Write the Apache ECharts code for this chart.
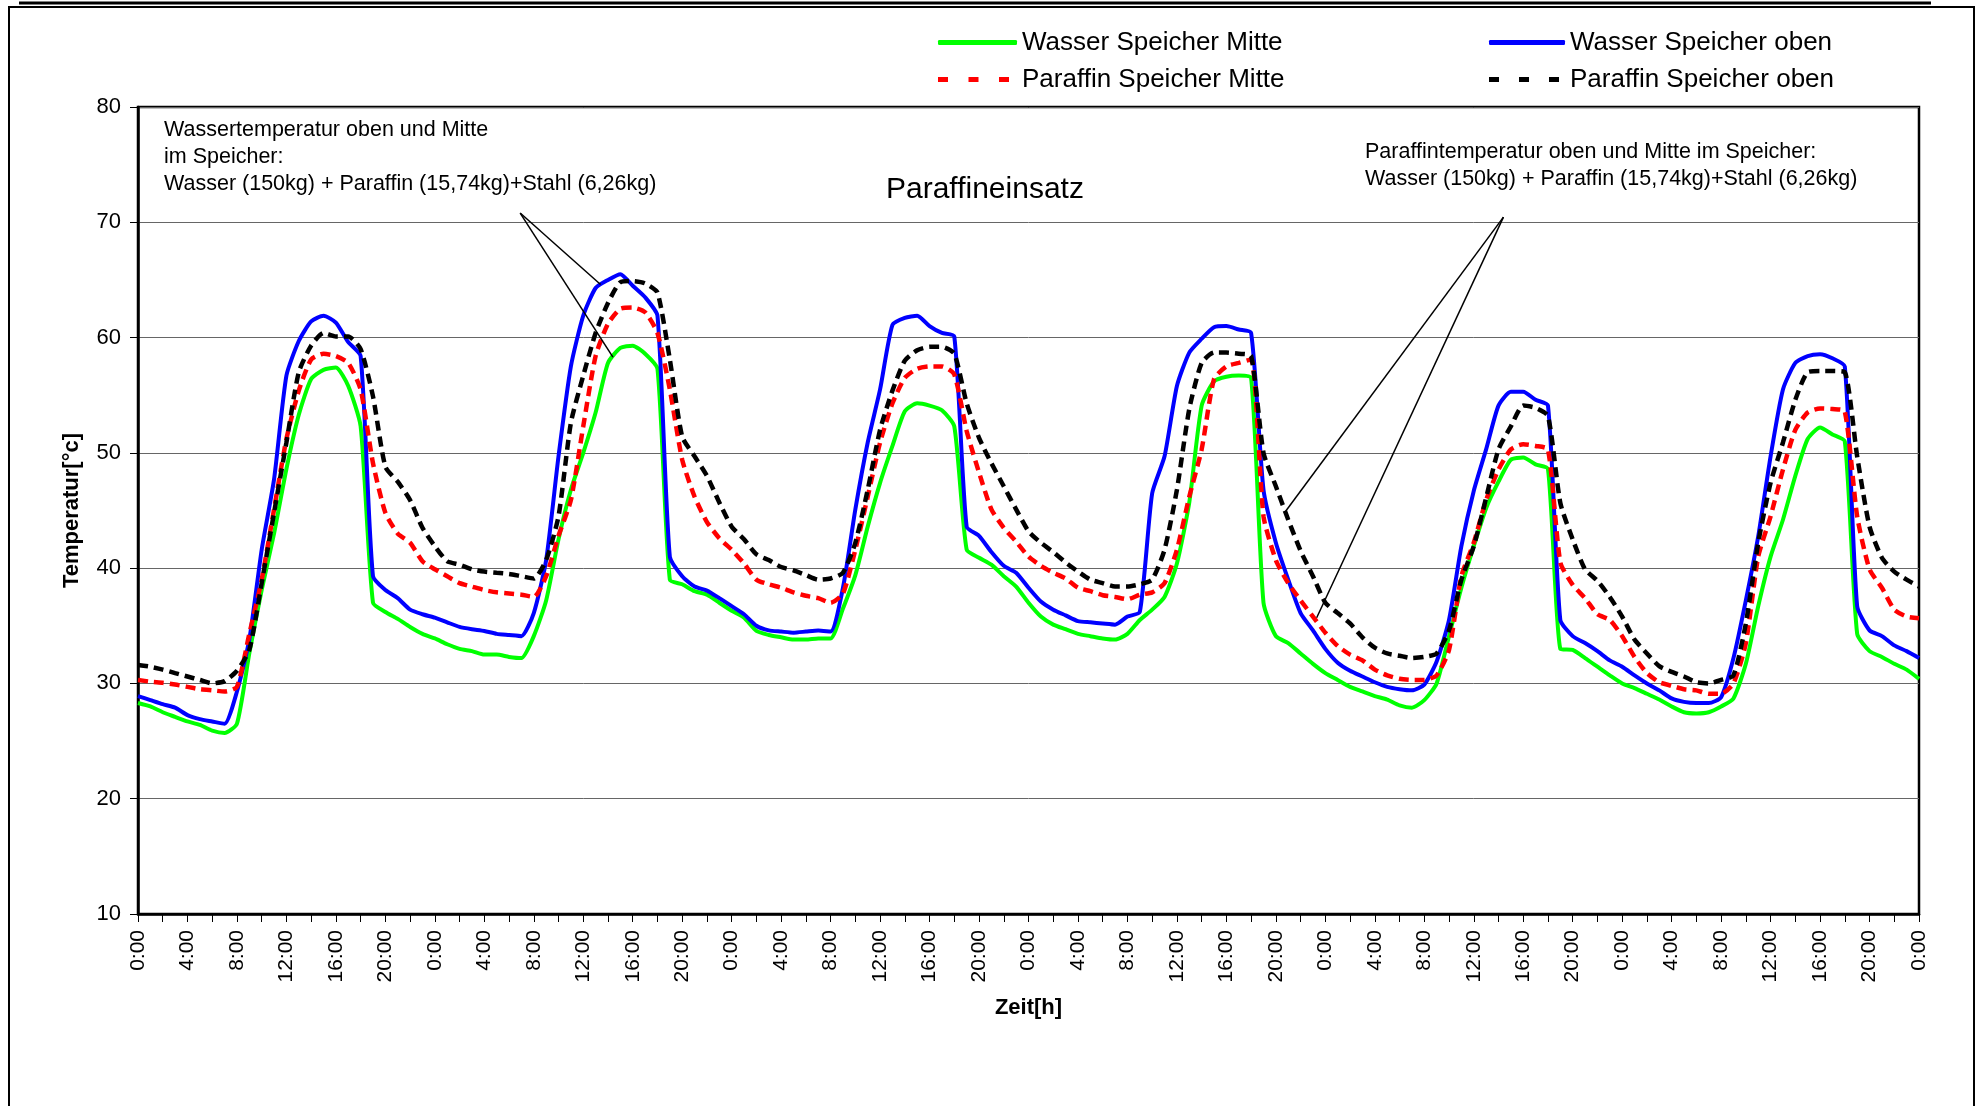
<!DOCTYPE html>
<html>
<head>
<meta charset="utf-8">
<title>Paraffineinsatz</title>
<script src="https://cdn.jsdelivr.net/npm/echarts@6/dist/echarts.min.js"></script>
<style>
  html, body { margin: 0; padding: 0; background: #fff; }
  #main { width: 1982px; height: 1106px; }
</style>
</head>
<body>
<div id="main"></div>
<script>
// Zeitachse: 6 Tage, Werte im Stundentakt (0..144 h)
var hours = [];
for (var i = 0; i <= 144; i++) hours.push(i);

var wasserMitte = [
  28.3, 28.0, 27.5, 27.1, 26.7, 26.4, 25.9, 25.7, 26.5, 32.6, 38.1, 43.0, 48.6, 53.3, 56.4, 57.2, 57.4, 55.8, 52.3, 37.0,
  36.2, 35.6, 34.9, 34.3, 33.9, 33.4, 33.0, 32.8, 32.5, 32.5, 32.3, 32.2, 34.1, 37.2, 42.5, 46.8, 50.0, 53.5, 57.8, 59.1,
  59.3, 58.6, 57.3, 39.0, 38.6, 38.0,
  37.7, 37.0, 36.3, 35.7, 34.55, 34.2, 34.0, 33.8, 33.8, 33.9, 33.9, 36.5, 39.4, 43.6, 47.4, 50.6, 53.6, 54.3, 54.1, 53.7,
  52.3, 41.6, 40.9, 40.3, 39.3, 38.4, 37.0, 35.8, 35.1, 34.7, 34.3, 34.1, 33.9, 33.8, 34.3, 35.5, 36.4, 37.5, 40.4, 45.7,
  54.1, 56.2, 56.6, 56.7, 56.5, 37.0, 34.1, 33.5,
  32.6, 31.7, 30.9, 30.3, 29.7, 29.3, 28.9, 28.6, 28.1, 27.9, 28.55, 30.0, 34.1, 38.3, 41.9, 45.2, 47.5, 49.4, 49.6, 49.0,
  48.6, 33.0, 32.9, 32.2, 31.45, 30.7, 30.0, 29.6, 29.1, 28.6, 28.0, 27.5, 27.4, 27.5, 28.0, 28.7, 31.7, 36.7, 41.0, 44.2,
  48.0, 51.2, 52.2, 51.6, 51.0, 34.3, 32.8, 32.3, 31.7, 31.2, 30.4
];

var wasserOben = [
  28.9, 28.55, 28.2, 27.9, 27.25, 26.9, 26.7, 26.5, 29.3, 33.8, 41.6, 47.7, 56.7, 59.7, 61.4, 61.9, 61.3, 59.6, 58.4, 39.3,
  38.1, 37.4, 36.4, 36.0, 35.7, 35.3, 34.9, 34.7, 34.55, 34.3, 34.2, 34.1, 36.1, 40.7, 49.7, 57.5, 61.9, 64.3, 65.0, 65.5,
  64.5, 63.5, 61.9, 41.0, 39.3, 38.4,
  38.05, 37.4, 36.7, 36.0, 35.0, 34.6, 34.5, 34.4, 34.5, 34.6, 34.5, 38.3, 45.1, 50.9, 55.5, 61.1, 61.7, 61.9, 61.0, 60.4,
  60.1, 43.6, 42.8, 41.4, 40.2, 39.6, 38.3, 37.1, 36.4, 35.9, 35.4, 35.3, 35.2, 35.1, 35.8, 36.2, 46.5, 49.7, 55.8, 58.7,
  59.9, 60.9, 61.0, 60.7, 60.4, 46.8, 42.2, 39.0,
  36.1, 34.6, 33.0, 31.8, 31.1, 30.6, 30.1, 29.7, 29.5, 29.4, 29.9, 31.9, 35.5, 41.9, 46.7, 50.3, 54.1, 55.3, 55.3, 54.6,
  54.1, 35.5, 34.1, 33.5, 32.8, 32.0, 31.45, 30.7, 30.0, 29.4, 28.7, 28.4, 28.3, 28.3, 28.8, 32.2, 37.2, 42.75, 49.7, 55.5,
  57.8, 58.4, 58.55, 58.2, 57.5, 36.7, 34.6, 34.1, 33.3, 32.8, 32.2
];

var paraffinMitte = [
  30.3, 30.15, 30.05, 29.9, 29.7, 29.5, 29.4, 29.3, 29.7, 34.3, 39.0, 45.1, 51.2, 55.4, 58.1, 58.6, 58.4, 57.8, 55.5, 49.1,
  44.8, 43.0, 42.2, 40.6, 39.9, 39.3, 38.7, 38.4, 38.1, 37.9, 37.8, 37.7, 37.5, 39.3, 42.8, 45.9, 52.3, 58.4, 61.2, 62.5,
  62.6, 62.2, 60.4, 55.5, 49.4, 46.2,
  44.0, 42.6, 41.6, 40.4, 39.0, 38.6, 38.3, 37.9, 37.6, 37.4, 37.0, 37.8, 41.6, 46.2, 50.9, 54.3, 56.5, 57.3, 57.5, 57.5,
  56.8, 51.9, 48.3, 45.1, 43.5, 42.3, 41.0, 40.2, 39.6, 39.1, 38.3, 38.0, 37.65, 37.5, 37.3, 37.7, 37.9, 38.7, 41.6, 46.2,
  50.3, 56.4, 57.5, 57.8, 58.1, 44.5, 40.7, 38.7,
  37.2, 35.8, 34.4, 33.25, 32.5, 32.0, 31.2, 30.7, 30.4, 30.3, 30.3, 30.7, 32.9, 39.3, 42.2, 45.9, 48.55, 50.3, 50.75, 50.6,
  50.3, 40.5, 38.55, 37.4, 36.0, 35.5, 34.1, 32.3, 30.9, 30.1, 29.8, 29.5, 29.4, 29.1, 29.1, 30.0, 33.5, 41.0, 44.5, 48.55,
  52.0, 53.5, 53.85, 53.8, 53.6, 44.5, 39.9, 38.3, 36.4, 35.8, 35.65
];

var paraffinOben = [
  31.6, 31.45, 31.2, 30.9, 30.6, 30.3, 30.0, 30.2, 31.1, 32.9, 38.7, 44.8, 50.9, 57.0, 59.3, 60.4, 60.1, 60.1, 59.0, 54.9,
  48.8, 47.5, 45.9, 43.5, 41.9, 40.6, 40.3, 39.9, 39.7, 39.6, 39.5, 39.3, 39.1, 40.7, 44.5, 52.6, 56.7, 60.4, 63.0, 64.8,
  64.9, 64.7, 63.9, 58.1, 51.4, 49.7,
  48.0, 45.7, 43.6, 42.5, 41.2, 40.7, 40.1, 39.8, 39.4, 39.0, 39.1, 39.6, 42.2, 46.8, 52.0, 55.4, 58.0, 58.9, 59.2, 59.2,
  58.6, 54.3, 51.3, 49.1, 47.1, 45.1, 43.2, 42.2, 41.4, 40.5, 39.7, 39.0, 38.7, 38.4, 38.4, 38.6, 39.0, 41.6, 46.8, 53.8,
  57.8, 58.7, 58.7, 58.6, 58.4, 50.0, 47.1, 44.2,
  41.5, 39.3, 37.0, 36.1, 35.2, 34.0, 33.1, 32.6, 32.4, 32.2, 32.3, 32.6, 34.6, 39.0, 41.9, 46.1, 50.3, 52.3, 54.1, 53.9,
  53.2, 45.65, 42.5, 39.9, 38.9, 37.5, 35.8, 33.8, 32.6, 31.5, 31.0, 30.6, 30.1, 30.0, 30.3, 30.7, 35.2, 42.2, 47.4, 50.9,
  54.6, 57.0, 57.1, 57.1, 57.0, 49.7, 43.6, 40.9, 39.7, 39.0, 38.4
];

// Hinweislinien der beiden Beschriftungen [von, nach] in Achsenwerten (h, °C)
var callouts = [
  [[30.9, 70.8], [37.4, 64.6]],
  [[30.9, 70.8], [38.4, 58.3]],
  [[110.4, 70.45], [92.7, 44.8]],
  [[110.4, 70.45], [95.3, 35.7]]
];

var FONT = "'Liberation Sans', Arial, sans-serif";

function pairs(values) {
  return hours.map(function (h, i) { return [h, values[i]]; });
}

// Legende wie im Excel-Diagramm: eigene Symbole ohne Punkt in der Mitte
function legendItem(name, color, left, top, width, icon, shift) {
  return {
    orient: 'vertical',
    left: left,
    top: top,
    padding: 0,
    selectedMode: false,
    itemWidth: width,
    itemHeight: 5,
    symbolKeepAspect: false,
    textStyle: { fontFamily: FONT, fontSize: 26, color: '#000', padding: [0, 0, 0, shift] },
    data: [{ name: name, icon: icon, itemStyle: { color: color, borderWidth: 0 } }]
  };
}

var DASH1 = 'path://M0,0h10v5h-10zM30.5,0h10v5h-10zM61,0h10v5h-10z';
var DASH2 = 'path://M0,0h10v5h-10zM30,0h10v5h-10zM60,0h10v5h-10z';

var chartDom = document.getElementById('main');
var myChart = echarts.init(chartDom);
var option;

option = {
  animation: false,
  backgroundColor: '#fff',
  textStyle: { fontFamily: FONT, color: '#000' },
  title: {
    text: 'Paraffineinsatz',
    left: 881,
    top: 170,
    textStyle: { fontFamily: FONT, fontSize: 30, fontWeight: 'normal', color: '#000' }
  },
  legend: [
    legendItem('Wasser Speicher Mitte', '#00ff00', 938, 29.5, 79, 'roundRect', 0),
    legendItem('Paraffin Speicher Mitte', '#ff0000', 938, 66.5, 71, DASH1, 8),
    legendItem('Wasser Speicher oben', '#0000ff', 1489, 29.5, 76, 'roundRect', 0),
    legendItem('Paraffin Speicher oben', '#000000', 1489, 66.5, 70, DASH2, 6)
  ],
  grid: {
    left: 138,
    right: 63,
    top: 107,
    bottom: 192,
    show: true,
    borderColor: '#000',
    borderWidth: 2.5,
    backgroundColor: '#fff'
  },
  xAxis: {
    type: 'value',
    min: 0,
    max: 144,
    interval: 4,
    name: 'Zeit[h]',
    nameLocation: 'middle',
    nameGap: 83,
    nameTextStyle: { fontFamily: FONT, fontSize: 22, fontWeight: 'bold', color: '#000' },
    axisLine: { show: true, lineStyle: { color: '#000', width: 2.5 } },
    axisTick: { show: true, length: 8, lineStyle: { color: '#000', width: 1 } },
    minorTick: { show: true, splitNumber: 2, length: 8, lineStyle: { color: '#000', width: 1 } },
    splitLine: { show: false },
    axisLabel: {
      rotate: 90,
      margin: 16,
      fontFamily: FONT,
      fontSize: 21,
      color: '#000',
      formatter: function (v) { return (v % 24) + ':00'; }
    }
  },
  yAxis: {
    type: 'value',
    min: 10,
    max: 80,
    interval: 10,
    name: 'Temperatur[°c]',
    nameLocation: 'middle',
    nameGap: 55,
    nameTextStyle: { fontFamily: FONT, fontSize: 22, fontWeight: 'bold', color: '#000' },
    axisLine: { show: true, lineStyle: { color: '#000', width: 2.5 } },
    axisTick: { show: true, length: 8, lineStyle: { color: '#000', width: 1 } },
    splitLine: { show: true, lineStyle: { color: '#666', width: 1 } },
    axisLabel: { margin: 17, fontFamily: FONT, fontSize: 22, color: '#000' }
  },
  graphic: [
    {
      type: 'rect',
      silent: true,
      shape: { x: 9, y: 7, width: 1965, height: 1130 },
      style: { fill: 'none', stroke: '#000', lineWidth: 2 }
    },
    {
      type: 'line',
      silent: true,
      shape: { x1: 19, y1: 3, x2: 1931, y2: 3 },
      style: { stroke: '#000', lineWidth: 3 }
    },
    {
      type: 'text',
      silent: true,
      x: 164,
      y: 116,
      style: {
        text: 'Wassertemperatur oben und Mitte\nim Speicher:\nWasser (150kg) + Paraffin (15,74kg)+Stahl (6,26kg)',
        font: '21.5px ' + FONT,
        lineHeight: 27.3,
        fill: '#000'
      }
    },
    {
      type: 'text',
      silent: true,
      x: 1365,
      y: 138,
      style: {
        text: 'Paraffintemperatur oben und Mitte im Speicher:\nWasser (150kg) + Paraffin (15,74kg)+Stahl (6,26kg)',
        font: '21.5px ' + FONT,
        lineHeight: 27.5,
        fill: '#000'
      }
    }
  ],
  series: [
    {
      name: 'Wasser Speicher Mitte',
      type: 'line',
      symbol: 'none',
      smooth: 0.2,
      data: pairs(wasserMitte),
      lineStyle: { color: '#00ff00', width: 4 },
      itemStyle: { color: '#00ff00' }
    },
    {
      name: 'Wasser Speicher oben',
      type: 'line',
      symbol: 'none',
      smooth: 0.2,
      data: pairs(wasserOben),
      lineStyle: { color: '#0000ff', width: 4 },
      itemStyle: { color: '#0000ff' }
    },
    {
      name: 'Paraffin Speicher Mitte',
      type: 'line',
      symbol: 'none',
      smooth: 0.2,
      data: pairs(paraffinMitte),
      lineStyle: { color: '#ff0000', width: 4.5, type: [10, 6] },
      itemStyle: { color: '#ff0000' }
    },
    {
      name: 'Paraffin Speicher oben',
      type: 'line',
      symbol: 'none',
      smooth: 0.2,
      data: pairs(paraffinOben),
      lineStyle: { color: '#000000', width: 4.5, type: [10, 6] },
      itemStyle: { color: '#000000' },
      markLine: {
        silent: true,
        symbol: ['none', 'none'],
        label: { show: false },
        lineStyle: { color: '#000', width: 1.5, type: 'solid' },
        data: callouts.map(function (c) {
          return [{ coord: c[0] }, { coord: c[1] }];
        })
      }
    }
  ]
};

option && myChart.setOption(option);
</script>
</body>
</html>
